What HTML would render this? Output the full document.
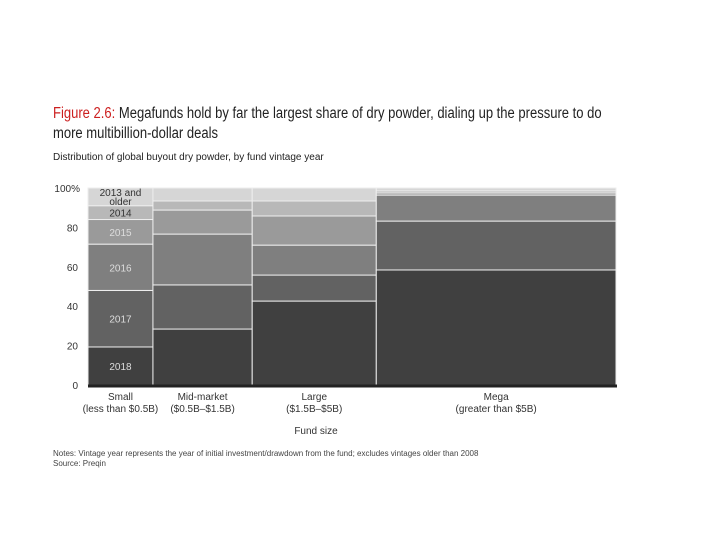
<!DOCTYPE html>
<html><head><meta charset="utf-8"><style>
body{margin:0;background:#fff;width:720px;height:540px;overflow:hidden;font-family:"Liberation Sans",sans-serif}
.t{position:absolute;white-space:nowrap}
</style></head><body>
<div class="t" style="left:53px;top:104px;font-size:15.5px;line-height:20px;color:#222;transform:scaleX(0.84);transform-origin:0 0"><span style="color:#cc1f1f">Figure 2.6:</span> Megafunds hold by far the largest share of dry powder, dialing up the pressure to do<br>more multibillion-dollar deals</div>
<div class="t" style="left:53px;top:152px;font-size:10px;color:#222">Distribution of global buyout dry powder, by fund vintage year</div>
<svg id="c" width="720" height="540" style="position:absolute;left:0;top:0"></svg>
<script>
const categories=["Small","Mid-market","Large","Mega"];
const catSub=["(less than $0.5B)","($0.5B\u2013$1.5B)","($1.5B\u2013$5B)","(greater than $5B)"];
const widths=[12.3,18.8,23.5,45.4];
const years=["2018","2017","2016","2015","2014","2013 and older"];
const v2018=[19.3,28.4,42.6,58.4];
const v2017=[28.7,22.4,13.2,24.8];
const v2016=[23.5,25.8,15.2,13.2];
const v2015=[12.5,12.2,14.8,1.1];
const v2014=[7,4.6,7.6,1];
const v2013=[9,6.6,6.6,1.5];
const yTicks=[0,20,40,60,80,100];
const colors=["#404040","#626262","#7f7f7f","#9a9a9a","#b8b8b8","#d6d6d6"];
const series=[v2018,v2017,v2016,v2015,v2014,v2013];
const X0=88,X1=616,Y0=385,Y1=188;
const totalW=widths.reduce((a,b)=>a+b,0);
const xs=w=>w/totalW*(X1-X0);
const y=v=>Y0-v/100*(Y0-Y1);
const svg=document.getElementById('c');const NS="http://www.w3.org/2000/svg";
function mk(t,a,txt){const e=document.createElementNS(NS,t);for(const k in a)e.setAttribute(k,a[k]);if(txt!=null)e.textContent=txt;svg.appendChild(e);return e;}
let cx=X0;
categories.forEach((c,i)=>{
  const w=xs(widths[i]);let cum=0;
  series.forEach((s,j)=>{
    const r=mk('rect',{x:cx,y:y(cum+s[i]),width:w,height:y(cum)-y(cum+s[i]),fill:colors[j],stroke:'#eee','stroke-width':1});
    
    
    if(i===0){
      const lab=years[j];const ym=(y(cum)+y(cum+s[i]))/2;
      if(j===5){
        const t1=mk('text',{x:cx+w/2,y:ym-1,'text-anchor':'middle','font-size':10,fill:'#333'},'2013 and');
        
        const t2=mk('text',{x:cx+w/2,y:ym+8,'text-anchor':'middle','font-size':10,fill:'#333'},'older');
        
      } else {
        const t=mk('text',{x:cx+w/2,y:ym+4,'text-anchor':'middle','font-size':10,fill:j>=4?'#333':'#ddd'},lab);
        
      }
    }
    cum+=s[i];
  });
  const l1=mk('text',{x:cx+w/2,y:400,'text-anchor':'middle','font-size':10,fill:'#333'},c);
  
  const l2=mk('text',{x:cx+w/2,y:412,'text-anchor':'middle','font-size':10,fill:'#333'},catSub[i]);
  
  cx+=w;
});
yTicks.forEach(t=>{
  const e=mk('text',{x:t===100?80:78,y:y(t)+4,'text-anchor':'end','font-size':10,fill:'#333'},t===100?'100%':String(t));
  
});
const ax=mk('line',{x1:X0,x2:X1+1,y1:Y0+1,y2:Y0+1,stroke:'#222','stroke-width':3});

const xt=mk('text',{x:316,y:434,'text-anchor':'middle','font-size':10,fill:'#333'},'Fund size');

const n1=mk('text',{x:53,y:456,'font-size':8,fill:'#444'},'Notes: Vintage year represents the year of initial investment/drawdown from the fund; excludes vintages older than 2008');

const n2=mk('text',{x:53,y:466,'font-size':8,fill:'#444'},'Source: Preqin');

</script>
</body></html>
